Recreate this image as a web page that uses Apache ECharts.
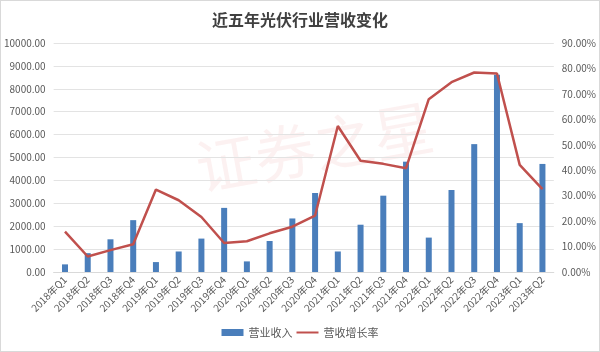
<!DOCTYPE html>
<html>
<head>
<meta charset="utf-8">
<script src="https://cdn.jsdelivr.net/npm/echarts@6/dist/echarts.min.js"></script>
<style>
  html, body { margin: 0; padding: 0; background: #fff; }
  #chart { width: 598px; height: 350px; border: 1px solid #d9d9d9; }
</style>
</head>
<body>
<div id="chart"></div>
<script>
// 季度
const quarters = [
  '2018年Q1', '2018年Q2', '2018年Q3', '2018年Q4',
  '2019年Q1', '2019年Q2', '2019年Q3', '2019年Q4',
  '2020年Q1', '2020年Q2', '2020年Q3', '2020年Q4',
  '2021年Q1', '2021年Q2', '2021年Q3', '2021年Q4',
  '2022年Q1', '2022年Q2', '2022年Q3', '2022年Q4',
  '2023年Q1', '2023年Q2'
]
// 营业收入
const revenue = [
  333, 822, 1428, 2264,
  433, 896, 1459, 2800,
  463, 1355, 2338, 3450,
  896, 2065, 3333, 4818,
  1502, 3580, 5584, 8615,
  2134, 4719
]
// 营收增长率 (%)
const growthRate = [
  15.9, 6.1, 8.6, 10.9,
  32.4, 28.2, 21.6, 11.4,
  12.1, 15.2, 17.8, 22.2,
  57.4, 43.7, 42.5, 40.8,
  67.9, 74.6, 78.4, 78.0,
  42.1, 32.6
]

const chart = echarts.init(document.getElementById('chart'))

const labelStyle = { color: '#595959', fontSize: 10, fontFamily: 'Noto Sans CJK SC' }

chart.setOption({
  animation: false,
  title: {
    text: '近五年光伏行业营收变化',
    left: 'center',
    top: 6,
    textStyle: { fontSize: 16, fontWeight: 'bold', color: '#404040', fontFamily: 'Noto Sans CJK SC' }
  },
  graphic: [
    {
      type: 'text',
      left: 190,
      top: 95,
      rotation: 0.18,
      silent: true,
      style: {
        text: '证券之星',
        fontSize: 60,
        fontFamily: 'Noto Sans CJK SC',
        fill: 'rgba(230, 120, 120, 0.1)'
      }
    }
  ],
  legend: {
    bottom: 8,
    left: 'center',
    itemGap: 4,
    itemWidth: 22,
    itemHeight: 7,
    textStyle: { color: '#595959', fontSize: 11, fontFamily: 'Noto Sans CJK SC' },
    data: [
      { name: '营业收入', icon: 'rect' },
      { name: '营收增长率', icon: 'path://M0,0 L22,0 L22,2 L0,2 Z' }
    ]
  },
  grid: { left: 52, right: 45, top: 42, bottom: 79 },
  xAxis: {
    type: 'category',
    data: quarters,
    axisTick: { show: false },
    axisLine: { lineStyle: { color: '#d9d9d9' } },
    axisLabel: { ...labelStyle, rotate: 45, interval: 0, margin: 6 }
  },
  yAxis: [
    {
      type: 'value',
      min: 0,
      max: 10000,
      interval: 1000,
      axisLabel: { ...labelStyle, formatter: v => v.toFixed(2) },
      splitLine: { lineStyle: { color: '#e3e3e3' } }
    },
    {
      type: 'value',
      min: 0,
      max: 90,
      interval: 10,
      axisLabel: { ...labelStyle, formatter: v => v.toFixed(2) + '%' },
      splitLine: { show: false }
    }
  ],
  series: [
    {
      name: '营业收入',
      type: 'bar',
      data: revenue,
      barWidth: 6,
      itemStyle: { color: '#4a7ebb' }
    },
    {
      name: '营收增长率',
      type: 'line',
      yAxisIndex: 1,
      data: growthRate,
      symbol: 'none',
      lineStyle: { color: '#c0504d', width: 2.5 },
      itemStyle: { color: '#c0504d' }
    }
  ]
})
</script>
</body>
</html>
